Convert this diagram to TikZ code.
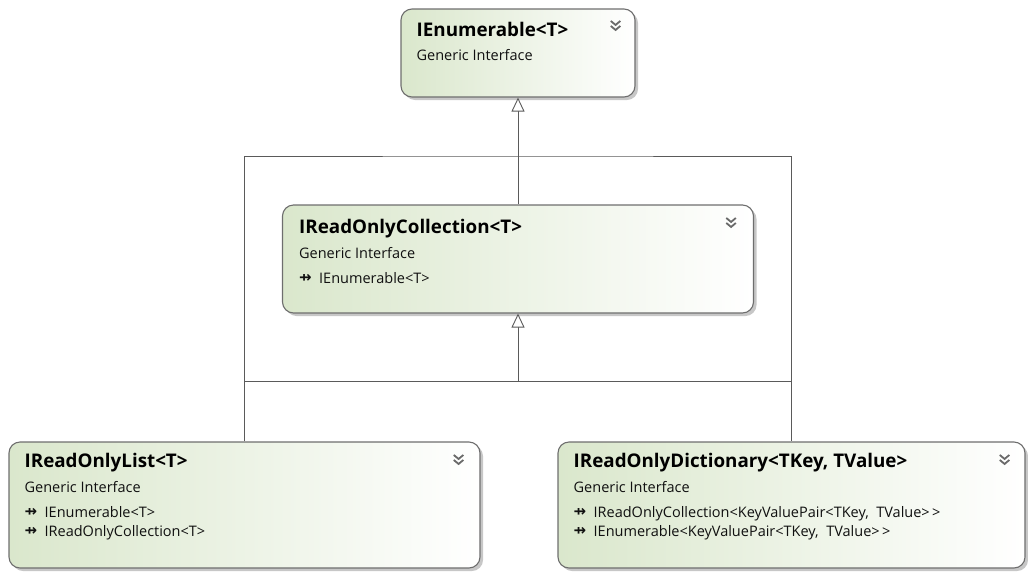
\documentclass[tikz,border=0pt]{standalone}
\usepackage{fontspec}
\setmainfont{Open Sans}
\newfontfamily\symfont{DejaVu Sans}
\usetikzlibrary{arrows.meta,shadows}
\definecolor{boxborder}{HTML}{6E6E6E}
\definecolor{boxgreen}{HTML}{DAE7CC}
\definecolor{linegray}{HTML}{5A5A5A}
\definecolor{chevgray}{HTML}{6A6A6A}
\definecolor{txtgray}{HTML}{101010}
\tikzset{
  classbox/.style={draw=boxborder, line width=1.1pt, rounded corners=11pt,
    left color=boxgreen, middle color=boxgreen!60!white, right color=white,
    drop shadow={shadow xshift=3pt, shadow yshift=-3pt, fill=black, opacity=0.22},
    inner sep=0pt},
  titletext/.style={anchor=base west, inner sep=0pt, text=black,
    font=\bfseries\fontsize{18.8}{20}\selectfont},
  kindtext/.style={anchor=base west, inner sep=0pt, text=txtgray,
    font=\fontsize{14.5}{16}\selectfont},
  itemtext/.style={anchor=base west, inner sep=0pt, text=txtgray,
    font=\fontsize{14.5}{16}\selectfont},
  conn/.style={draw=linegray, line width=0.9pt},
  inherit/.style={conn, -{Triangle[open, width=13pt, length=14pt, fill=white]}},
  chevpic/.pic={
    \draw[chevgray, line width=1.8pt, line join=miter]
      (-4.8pt,4.5pt) -- (0pt,0.5pt) -- (4.8pt,4.5pt)
      (-4.8pt,-0.5pt) -- (0pt,-4.5pt) -- (4.8pt,-0.5pt);
  }
}
\newcommand{\impl}{\makebox[20pt][l]{\raisebox{0.5pt}{\symfont\bfseries\fontsize{15}{15}\selectfont ⇸}}}
\begin{document}
\begin{tikzpicture}[x=1pt, y=-1pt]
\useasboundingbox (0,0) rectangle (1028,571);

% boxes
\node[classbox, minimum width=234pt, minimum height=88pt] (enum) at (518,53) {};
\node[classbox, minimum width=471pt, minimum height=108pt] (coll) at (518,259) {};
\node[classbox, minimum width=471pt, minimum height=126pt] (list) at (244.5,505) {};
\node[classbox, minimum width=467pt, minimum height=126pt] (dict) at (791.5,505) {};

% chevrons
\pic at ([xshift=-20pt, yshift=-17pt]enum.north east) {chevpic};
\pic at ([xshift=-23pt, yshift=-18pt]coll.north east) {chevpic};
\pic at ([xshift=-22pt, yshift=-18pt]list.north east) {chevpic};
\pic at ([xshift=-21pt, yshift=-18pt]dict.north east) {chevpic};

% IEnumerable<T>
\node[titletext] (enumT) at ([xshift=16pt, yshift=-28pt]enum.north west) {IEnumerable<T>};
\node[kindtext]  (enumK) at ([xshift=16pt, yshift=-52pt]enum.north west) {Generic Interface};

% IReadOnlyCollection<T>
\node[titletext] (collT) at ([xshift=17pt, yshift=-29pt]coll.north west) {IReadOnlyCollection<T>};
\node[kindtext]  (collK) at ([xshift=17pt, yshift=-54pt]coll.north west) {Generic Interface};
\node[itemtext]  (collI1) at ([xshift=17pt, yshift=-79pt]coll.north west) {\impl IEnumerable<T>};

% IReadOnlyList<T>
\node[titletext] (listT) at ([xshift=16pt, yshift=-26pt]list.north west) {IReadOnlyList<T>};
\node[kindtext]  (listK) at ([xshift=16pt, yshift=-51pt]list.north west) {Generic Interface};
\node[itemtext]  (listI1) at ([xshift=16pt, yshift=-76pt]list.north west) {\impl IEnumerable<T>};
\node[itemtext]  (listI2) at ([xshift=16pt, yshift=-95pt]list.north west) {\impl IReadOnlyCollection<T>};

% IReadOnlyDictionary<TKey, TValue>
\node[titletext] (dictT) at ([xshift=16pt, yshift=-26pt]dict.north west) {IReadOnlyDictionary<TKey, TValue>};
\node[kindtext]  (dictK) at ([xshift=16pt, yshift=-51pt]dict.north west) {Generic Interface};
\node[itemtext]  (dictI1) at ([xshift=16pt, yshift=-76pt]dict.north west) {\impl IReadOnlyCollection<KeyValuePair<TKey,\ \ TValue>\,>};
\node[itemtext]  (dictI2) at ([xshift=16pt, yshift=-95pt]dict.north west) {\impl IEnumerable<KeyValuePair<TKey,\ \ TValue>\,>};

% connectors
\coordinate (j1) at (518,156);
\coordinate (j2) at (518,381);
\draw[inherit] (coll.north) -- (coll.north |- enum.south);
\draw[conn] (list.north) |- (j1) -| (dict.north);
\draw[conn] (list.north |- j2) -- (dict.north |- j2);
\draw[inherit] (j2) -- (j2 |- coll.south);
\end{tikzpicture}
\end{document}
